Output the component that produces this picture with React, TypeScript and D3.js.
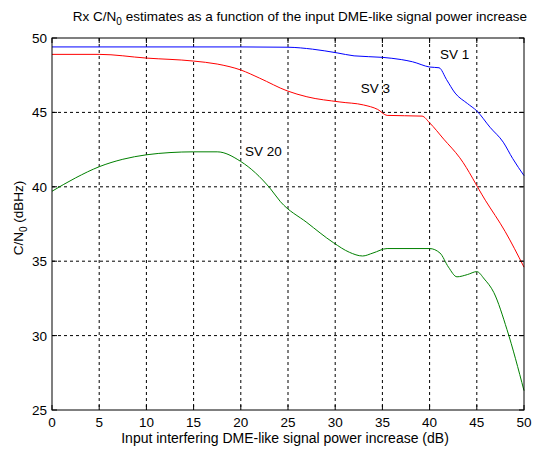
import React from "react";
import * as d3 from "d3";

const xTicks = [0, 5, 10, 15, 20, 25, 30, 35, 40, 45, 50];
const yTicks = [25, 30, 35, 40, 45, 50];

const sv1X = [0, 10, 20, 25, 27.6, 30.2, 32, 35, 37, 38.2, 40, 41, 41.8, 42.7, 44, 45, 46.4, 47.8, 48.8, 50];
const sv1Y = [49.4, 49.4, 49.4, 49.38, 49.25, 49.0, 48.8, 48.7, 48.55, 48.4, 48.05, 48.0, 47.2, 46.3, 45.6, 45.1, 44.0, 43.0, 41.9, 40.75];

const sv3X = [0, 5, 10, 15, 17.5, 20, 22, 24.9, 27, 30.5, 33, 34.5, 35.5, 39.2, 40, 41.5, 43.2, 45.9, 48, 50];
const sv3Y = [48.9, 48.9, 48.65, 48.45, 48.25, 47.85, 47.3, 46.45, 46.05, 45.7, 45.5, 45.2, 44.8, 44.75, 44.3, 43.2, 41.95, 39.1, 37.0, 34.6];

const sv20X = [0, 2.5, 5, 7.5, 10, 12.5, 15, 17.5, 20, 23.1, 24.2, 27, 29.8, 31.5, 32.9, 34, 35.5, 40, 41.1, 42, 42.9, 44, 45, 45.8, 46.8, 48.2, 50];
const sv20Y = [39.7, 40.6, 41.35, 41.85, 42.15, 42.3, 42.35, 42.35, 41.7, 39.9, 39.0, 37.6, 36.25, 35.6, 35.35, 35.55, 35.85, 35.85, 35.55, 34.6, 33.95, 34.1, 34.3, 33.8, 32.9, 30.4, 26.3];

const series = [
  { name: "SV 1", xs: sv1X, ys: sv1Y, color: "#0000ff", label: [41.1, 48.6] },
  { name: "SV 3", xs: sv3X, ys: sv3Y, color: "#ff0000", label: [32.7, 46.3] },
  { name: "SV 20", xs: sv20X, ys: sv20Y, color: "#008000", label: [20.45, 42.07] },
];

export default function App() {
  const W = 533, H = 450;
  const L = 52, R = 524, T = 38, B = 410;
  const x = d3.scaleLinear().domain([0, 50]).range([L, R]);
  const y = d3.scaleLinear().domain([25, 50]).range([B, T]);
  const font = "Arial, 'Liberation Sans', sans-serif";
  const fs = 13.5;
  const line = d3
    .line<[number, number]>()
    .x((d) => x(d[0]))
    .y((d) => y(d[1]))
    .curve(d3.curveMonotoneX);

  return (
    <svg width={W} height={H} style={{ position: "absolute", left: 0, top: 0, background: "#fff" }} fontFamily={font}>
      <rect x={0} y={0} width={W} height={H} fill="#fff" />
      {/* grid */}
      {xTicks.slice(1, -1).map((t) => (
        <line key={"gx" + t} x1={x(t)} x2={x(t)} y1={T} y2={B} stroke="#000" strokeWidth={1} strokeDasharray="3,3" />
      ))}
      {yTicks.slice(1, -1).map((t) => (
        <line key={"gy" + t} x1={L} x2={R} y1={y(t)} y2={y(t)} stroke="#000" strokeWidth={1} strokeDasharray="3,3" />
      ))}
      {/* series */}
      {series.map((s) => (
        <path
          key={s.name}
          d={line(s.xs.map((v, i) => [v, s.ys[i]] as [number, number])) || ""}
          fill="none"
          stroke={s.color}
          strokeWidth={1}
        />
      ))}
      {/* frame */}
      <rect x={L} y={T} width={R - L} height={B - T} fill="none" stroke="#000" strokeWidth={1} />
      {/* tick marks */}
      {xTicks.map((t) => (
        <g key={"tx" + t}>
          <line x1={x(t)} x2={x(t)} y1={B} y2={B - 5} stroke="#000" />
          <line x1={x(t)} x2={x(t)} y1={T} y2={T + 5} stroke="#000" />
          <text x={x(t)} y={B + 17} fontSize={fs} textAnchor="middle" fill="#000">{t}</text>
        </g>
      ))}
      {yTicks.map((t) => (
        <g key={"ty" + t}>
          <line x1={L} x2={L + 5} y1={y(t)} y2={y(t)} stroke="#000" />
          <line x1={R} x2={R - 5} y1={y(t)} y2={y(t)} stroke="#000" />
          <text x={L - 5} y={y(t) + 5} fontSize={fs} textAnchor="end" fill="#000">{t}</text>
        </g>
      ))}
      {/* series labels */}
      {series.map((s) => (
        <text key={"l" + s.name} x={x(s.label[0])} y={y(s.label[1])} fontSize={fs} fill="#000">{s.name}</text>
      ))}
      {/* title */}
      <text x={300} y={21} fontSize={fs} textAnchor="middle" fill="#000">
        Rx C/N<tspan fontSize={10} dy={4}>0</tspan><tspan dy={-4}> estimates as a function of the input DME-like signal power increase</tspan>
      </text>
      {/* x label */}
      <text x={285} y={443} fontSize={14} textAnchor="middle" fill="#000">
        Input interfering DME-like signal power increase (dB)
      </text>
      {/* y label */}
      <text transform={`translate(23, 218) rotate(-90)`} fontSize={fs} textAnchor="middle" fill="#000">
        C/N<tspan fontSize={10} dy={4}>0</tspan><tspan dy={-4}> (dBHz)</tspan>
      </text>
    </svg>
  );
}
